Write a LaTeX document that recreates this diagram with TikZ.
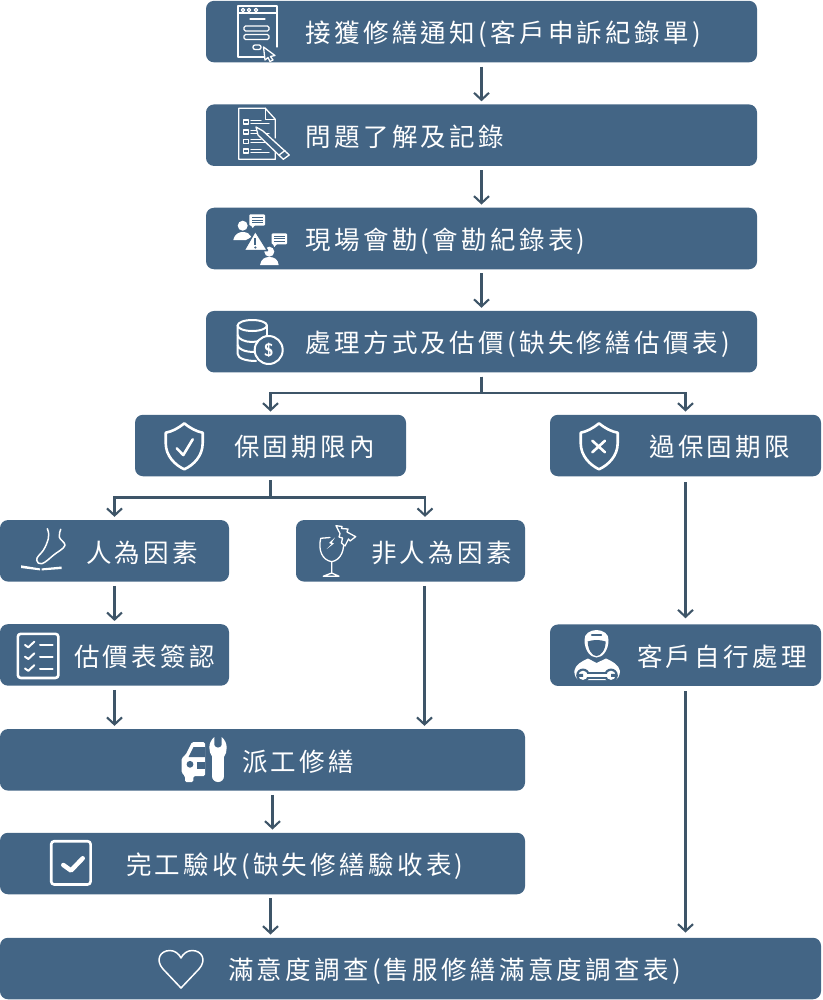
\documentclass[tikz,border=0pt]{standalone}
\usepackage{fontspec}
\usetikzlibrary{arrows.meta,positioning}
\newfontfamily\cjkfont[LetterSpace=13]{Noto Sans CJK TC}
\definecolor{boxblue}{HTML}{436585}
\definecolor{linegray}{HTML}{3E5568}
\tikzset{
  flowbox/.style={fill=boxblue,rounded corners=8pt,minimum height=61.5pt,inner sep=0pt},
  flowtext/.style={inner sep=0pt,text=white,font=\cjkfont\fontsize{25.5}{25.5}\selectfont,text height=25pt,text depth=2.6pt},
  flowline/.style={draw=linegray,line width=2.2pt,shorten <=4pt,shorten >=3pt,-{Straight Barb[length=7pt,width=15pt,line width=2.1pt]}},
  iconline/.style={draw=white,line width=1.3pt,line join=round,line cap=round},
  iconfat/.style={draw=white,line width=2.6pt,line join=round,line cap=round},
  iconfill/.style={fill=white,draw=none},
  iconback/.style={fill=boxblue,draw=white,line width=1.3pt,line join=round}
}
\begin{document}
\begin{tikzpicture}[x=1pt,y=-1pt]
\useasboundingbox (0,0) rectangle (822,1000);
\node[flowbox,minimum width=551pt] (notice) at (481.5,31.6) {};
\node[flowbox,minimum width=551pt] (problem) [below of=notice,node distance=103.6pt] {};
\node[flowbox,minimum width=551pt] (visit) [below of=problem,node distance=103.3pt] {};
\node[flowbox,minimum width=551pt] (estimate) [below of=visit,node distance=103.2pt] {};
\node[flowbox,minimum width=271pt] (inwarranty) [below of=estimate,node distance=103.8pt,xshift=-211pt] {};
\node[flowbox,minimum width=271pt] (outwarranty) [right of=inwarranty,node distance=415pt] {};
\node[flowbox,minimum width=229pt] (human) [below of=inwarranty,node distance=105.3pt,xshift=-156pt] {};
\node[flowbox,minimum width=229pt] (nonhuman) [right of=human,node distance=296pt] {};
\node[flowbox,minimum width=229pt] (sign) [below of=human,node distance=104.1pt] {};
\node[flowbox,minimum width=271pt] (diy) [below of=outwarranty,node distance=209.7pt] {};
\node[flowbox,minimum width=525pt] (dispatch) [below of=sign,node distance=104.9pt,xshift=148pt] {};
\node[flowbox,minimum width=525pt] (accept) [below of=dispatch,node distance=103.7pt] {};
\node[flowbox,minimum width=821pt] (survey) [below of=accept,node distance=105pt,xshift=148pt] {};

\node[flowtext] (noticetxt) [right=99.7pt of notice.west] {接獲修繕通知(客戶申訴紀錄單)};
\node[flowtext] (problemtxt) [right=99.7pt of problem.west] {問題了解及記錄};
\node[flowtext] (visittxt) [right=99.7pt of visit.west] {現場會勘(會勘紀錄表)};
\node[flowtext] (estimatetxt) [right=99.7pt of estimate.west] {處理方式及估價(缺失修繕估價表)};
\node[flowtext] (inwarrantytxt) [right=99.2pt of inwarranty.west] {保固期限內};
\node[flowtext] (outwarrantytxt) [right=99.2pt of outwarranty.west] {過保固期限};
\node[flowtext] (humantxt) [right=86pt of human.west] {人為因素};
\node[flowtext] (nonhumantxt) [right=75pt of nonhuman.west] {非人為因素};
\node[flowtext] (signtxt) [right=74.2pt of sign.west] {估價表簽認};
\node[flowtext] (diytxt) [right=87pt of diy.west] {客戶自行處理};
\node[flowtext] (dispatchtxt) [right=242pt of dispatch.west] {派工修繕};
\node[flowtext] (accepttxt) [right=126pt of accept.west] {完工驗收(缺失修繕驗收表)};
\node[flowtext] (surveytxt) [right=228pt of survey.west] {滿意度調查(售服修繕滿意度調查表)};

\draw[flowline] (notice.south) -- (problem.north);
\draw[flowline] (problem.south) -- (visit.north);
\draw[flowline] (visit.south) -- (estimate.north);
\draw[flowline] (estimate.south) -- ++(0,20) -| (inwarranty.north);
\draw[flowline] (estimate.south) -- ++(0,20) -| (outwarranty.north);
\draw[flowline] (inwarranty.south) -- ++(0,21) -| (human.north);
\draw[flowline] (inwarranty.south) -- ++(0,21) -| ([xshift=14.5pt]nonhuman.north);
\draw[flowline] (human.south) -- (sign.north);
\draw[flowline] (sign.south) -- (sign.south |- dispatch.north);
\draw[flowline] ([xshift=14pt]nonhuman.south) -- ([xshift=14pt]nonhuman.south |- dispatch.north);
\draw[flowline] ([xshift=10pt]dispatch.south) -- ([xshift=10pt]dispatch.south |- accept.north);
\draw[flowline] ([xshift=8pt]accept.south) -- ([xshift=8pt]accept.south |- survey.north);
\draw[flowline,shorten <=6pt,shorten >=6pt] (outwarranty.south) -- (diy.north);
\draw[flowline,shorten <=5pt,shorten >=5pt] (diy.south) -- (diy.south |- survey.north);

\draw[iconline] (265,57) -- (238,57) -- (238,6) -- (277,6) -- (277,47);
\draw[iconline] (238,13) -- (277,13);
\draw[iconline] (243,10) circle (1.7) (249,10) circle (1.7) (256,10) circle (1.7);
\draw[iconline] (250,19) -- (265,19);
\draw[iconline,rounded corners=1.5pt] (244,26) rectangle (269,31);
\draw[iconline,rounded corners=1.5pt] (244,34.5) rectangle (269,39.5);
\draw[iconline,rounded corners=2pt] (253,45) rectangle (261,49.5);
\draw[iconback] (263.5,47) -- (275,55.5) -- (270.5,56.5) -- (273,60) -- (270,61.5) -- (268,57.5) -- (265,60) -- cycle;

\draw[iconline] (275.3,138) -- (275.3,119.3) -- (265.3,108.3) -- (238.7,108.3) -- (238.7,159.3) -- (275.3,159.3) -- (275.3,150);
\draw[iconline] (265.3,108.3) -- (265.3,119.3) -- (275.3,119.3);
\foreach \ypos in {120,130,139.3,149}{
  \draw[iconline] (243.3,\ypos) rectangle (248.7,\ypos+4);
  \draw[iconline] (251,\ypos+.5) -- (261,\ypos+.5);
  \draw[iconline] (251,\ypos+3.5) -- (269,\ypos+3.5);
}
\draw[iconback] (256,127) -- (263,131) -- (289.3,155) -- (283.3,159.3) -- (258,135) -- cycle;
\draw[iconline] (285,150.5) -- (279,155);

\fill[iconfill] (242.7,225.7) circle (5);
\fill[iconfill] (233.3,240) .. controls (235,233) and (240,232) .. (243,232) .. controls (247,232) and (250,234) .. (251.5,237) -- (246,240) -- cycle;
\fill[iconfill] (269.3,251.7) circle (5);
\fill[iconfill] (260,265) .. controls (261,259) and (265,257) .. (269.3,257) .. controls (274,257) and (278,259) .. (278.7,265) -- cycle;
\draw[fill=white,draw=boxblue,line width=1.5pt,line join=round] (255.3,231) -- (244,250.5) -- (267.5,250.5) -- cycle;
\draw[draw=boxblue,line width=2pt] (255.3,238) -- (255.3,244.5);
\fill[boxblue] (255.3,247.5) circle (1.2);
\fill[iconfill,rounded corners=1pt] (249.3,214.3) rectangle (265,225.7);
\fill[iconfill] (250,224) -- (252.7,228) -- (256,224) -- cycle;
\draw[boxblue,line width=.8pt] (252,217.3) -- (262.5,217.3) (252,220) -- (262.5,220) (252,222.7) -- (262.5,222.7);
\fill[iconfill,rounded corners=1pt] (271.7,233.3) rectangle (287,244.3);
\fill[iconfill] (272.5,243) -- (274.3,247) -- (278,243) -- cycle;
\draw[boxblue,line width=.8pt] (274,236) -- (284.5,236) (274,238.8) -- (284.5,238.8) (274,241.5) -- (284.5,241.5);

\draw[iconfat,line width=2pt] (252.3,325.5) ellipse (14.7 and 5.5);
\draw[iconfat,line width=2pt] (237.7,325.5) -- (237.7,354) .. controls (237.7,358) and (245,361) .. (256,361);
\draw[iconfat,line width=2pt] (267,325.5) -- (267,340);
\draw[iconfat,line width=2pt] (237.7,335) .. controls (237.7,339) and (245,342) .. (252,342) .. controls (258,342) and (267,339) .. (267,335);
\draw[iconfat,line width=2pt] (237.7,345) .. controls (237.7,349) and (245,352) .. (254,352);
\draw[iconfat,line width=2pt,fill=boxblue] (268.7,350) circle (14);
\node[text=white,inner sep=0pt,font=\sffamily\bfseries\fontsize{18}{18}\selectfont] (dollar) at (268.7,350.5) {\$};

\draw[iconfat] (184.3,423.3) .. controls (178,428.5) and (172,431.5) .. (165.7,432.7) -- (165.7,443) .. controls (165.7,456) and (175,465) .. (184.3,469.3) .. controls (193.6,465) and (202.7,456) .. (202.7,443) -- (202.7,432.7) .. controls (196.6,431.5) and (190.6,428.5) .. (184.3,423.3) -- cycle;
\draw[iconfat] (176.7,448.3) -- (183.3,455) -- (192.7,439.3);

\draw[iconfat] (599,423.3) .. controls (592.7,428.5) and (586.7,431.5) .. (580.7,432.7) -- (580.7,443) .. controls (580.7,456) and (590,465) .. (599,469.3) .. controls (608.3,465) and (617.7,456) .. (617.7,443) -- (617.7,432.7) .. controls (611.3,431.5) and (605.3,428.5) .. (599,423.3) -- cycle;
\draw[iconfat] (592.3,440.7) -- (605,452.3) (605,440.7) -- (592.3,452.3);

\draw[iconline,line width=1.5pt] (47.3,528.7) .. controls (49,533) and (49,535) .. (48.3,538.7) .. controls (47,543) and (46,546) .. (43.3,550.3) .. controls (41,554) and (36,557) .. (36.7,560.3) .. controls (37,563) and (39,564) .. (41.7,563.7) .. controls (45,563) and (50,558) .. (53.3,555.3) .. controls (57,552) and (64,549) .. (65,545.3) .. controls (65,542) and (60,540) .. (59.3,537) .. controls (59,534) and (60,531) .. (60.7,529.3);
\fill[iconfill] (21,565.3) -- (40,568.4) -- (40,570.4) -- (21,568) -- cycle;
\fill[iconfill] (41.7,568.4) -- (61.7,566.5) -- (61.7,569) -- (41.7,570.4) -- cycle;

\draw[iconline] (330,537.5) -- (320.7,538.3) .. controls (318,550) and (322,560) .. (331.7,561.7) .. controls (341,560) and (345,550) .. (343.3,538.3);
\draw[iconline] (331.7,561.7) -- (331.7,573) -- (323.3,576.2) -- (339,576.2) -- (331.7,573);
\fill[iconfill] (335,537.5) -- (329,543) -- (331.5,544) -- (326.7,549) -- (334,543.5) -- (331.7,542.5) -- cycle;
\draw[iconline,fill=boxblue] (336,525.7) -- (342,526.5) -- (341.5,528.5) -- (348,529) -- (347,532) -- (355.7,536.7) -- (350,541) -- (348.5,539) -- (345,546) -- (341.5,543) -- (342.5,538) -- (339,537) -- (340,533.5) -- cycle;

\draw[iconfat,rounded corners=3pt] (17.8,633.8) rectangle (58.4,678);
\foreach \ypos in {645,656.7,668.5}{
  \draw[iconfat,line width=2pt] (25,\ypos) -- (28.3,\ypos+2.3) -- (34.3,\ypos-3.3);
  \draw[iconfat,line width=2pt] (40,\ypos) -- (52.7,\ypos);
}

\fill[iconfill] (574.3,671) .. controls (575,665) and (582,661) .. (588,658.5) -- (596.5,663) -- (606,658.5) .. controls (612,661) and (619,665) .. (620,671) .. controls (620,675) and (618,680) .. (614,680) -- (580,680) .. controls (576,680) and (574.3,675) .. (574.3,671) -- cycle;
\fill[iconfill] (584.5,640) .. controls (584,634) and (590,630) .. (596.5,630) .. controls (603,630) and (609,634) .. (608.5,640) .. controls (608.5,650) and (603,657.5) .. (596.5,657.5) .. controls (590,657.5) and (584.5,650) .. (584.5,640) -- cycle;
\fill[boxblue] (587.7,641.5) .. controls (593,639.5) and (600,639.5) .. (605.7,641.5) .. controls (605.5,650) and (601,656) .. (596.5,656) .. controls (592,656) and (588,650) .. (587.7,641.5) -- cycle;
\draw[boxblue,line width=1.6pt,line cap=round] (591.7,635) -- (601.3,635);
\draw[boxblue,line width=7pt] (586,675.3) -- (608,675.3);
\fill[boxblue] (583,675.3) circle (6.8) (611,675.3) circle (6.8);
\draw[white,line width=2.6pt] (586,675.3) -- (608,675.3);
\fill[iconfill] (583,675.3) circle (4.6) (611,675.3) circle (4.6);
\fill[boxblue] (577,673.8) rectangle (583,676.8) (611,673.8) rectangle (617,676.8);

\draw[white,line width=11.7pt,line cap=round] (218.2,756) -- (218.2,776.2);
\fill[iconfill] (212.3,757) .. controls (208.5,752) and (207.5,743) .. (214.3,737) -- (214.3,745) .. controls (215,748.5) and (221,748.5) .. (221.7,745) -- (221.7,737) .. controls (228.5,743) and (227.5,752) .. (224,757) -- cycle;
\fill[iconfill,rounded corners=1.5pt] (205,742) -- (192,742) -- (185.5,755) -- (181.7,758) -- (181.7,773) -- (185,776) -- (185,782) -- (193.3,782) -- (193.3,776) -- (205,776) -- cycle;
\fill[boxblue] (205,747) -- (193.5,747) -- (188.5,757) -- (205,757) -- cycle;
\fill[boxblue] (190,764.3) circle (3.4);
\fill[boxblue] (197,762) rectangle (205,768.7);

\draw[iconfat,rounded corners=3pt] (51.2,841.2) rectangle (90.6,884.5);
\draw[iconfat,line width=4.5pt] (63.3,865) -- (71,870.5) -- (82.7,858.3);

\draw[iconline,line width=1.5pt] (181,988) -- (163,969) .. controls (155,960) and (160,950.5) .. (170,950.5) .. controls (175,950.5) and (179,954) .. (181,958) .. controls (183,954) and (187,950.5) .. (192,950.5) .. controls (202,950.5) and (207,960) .. (199,969) -- cycle;
\end{tikzpicture}
\end{document}
